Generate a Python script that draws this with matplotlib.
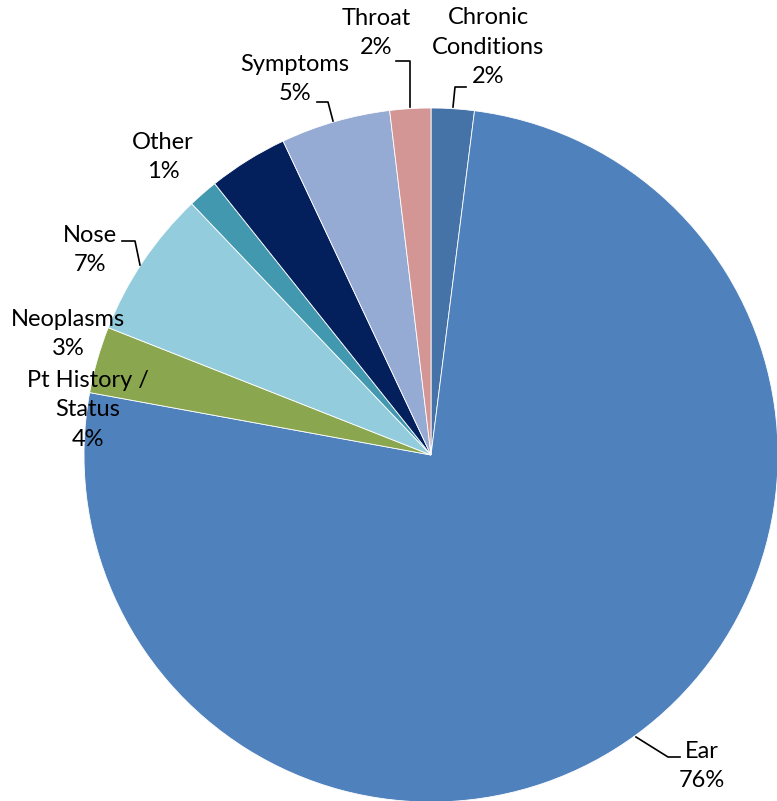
import matplotlib
matplotlib.use('Agg')
import matplotlib.pyplot as plt

# Dados do grafico (ordem horaria a partir do topo)
categorias = ['Chronic\nConditions', 'Ear', 'Neoplasms', 'Nose', 'Other',
              'Pt History /\nStatus', 'Symptoms', 'Throat']
valores = [2.0, 75.8, 3.1, 6.9, 1.4, 3.7, 5.1, 1.9]
cores = ['#4572a7', '#4f81bd', '#8aa64e', '#93cddd', '#4198af',
         '#03205c', '#95abd3', '#d49694']

# Posicoes dos rotulos em pixels (x, y a partir do topo)
pos_rotulos = [(488, 47), (702, 766), (68, 334), (90, 250), (163, 157),
               (88, 410), (295, 79), (376, 33)]

# Linhas de chamada (em pixels)
linhas = [
    [(466, 87), (455, 87), (453, 107)],
    [(680, 757), (668, 757), (636, 737)],
    [(122, 241), (135, 241), (140, 265)],
    [(317, 102), (328, 102), (333, 121)],
    [(396, 61), (410, 61), (410, 107)],
]

W, H = 777, 801
fig = plt.figure(figsize=(W / 100, H / 100), dpi=100)
ax = fig.add_axes([0, 0, 1, 1])

ax.pie(valores, colors=cores, startangle=90, counterclock=False,
       center=(431, H - 455), radius=347, frame=True,
       wedgeprops=dict(edgecolor='white', linewidth=0.6))
ax.set_xlim(0, W)
ax.set_ylim(0, H)
ax.axis('off')

for cat, v, (x, y) in zip(categorias, valores, pos_rotulos):
    ax.text(x, H - y, f'{cat}\n{round(v)}%', ha='center', va='center',
            fontsize=17, family='Lato', linespacing=1.5, color='black')

for ln in linhas:
    xs = [p[0] for p in ln]
    ys = [H - p[1] for p in ln]
    ax.plot(xs, ys, color='black', lw=1.2)

fig.savefig('out.png', dpi=100)
